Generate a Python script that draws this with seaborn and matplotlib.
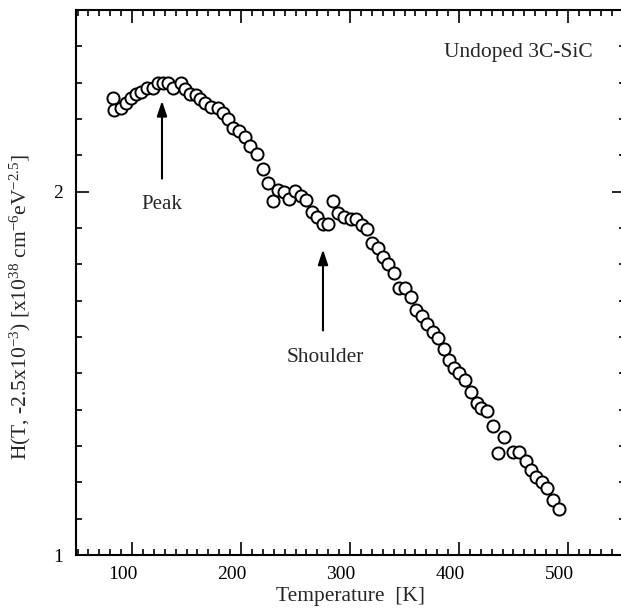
import matplotlib
matplotlib.use("Agg")
import matplotlib.pyplot as plt
from matplotlib.ticker import MultipleLocator, FixedLocator, NullFormatter
from matplotlib.transforms import ScaledTranslation
import seaborn as sns
import pandas as pd

temperature = [82.6, 83.5, 89.9, 94.5, 99.1, 103.7, 108.3, 113.8, 119.3, 123.9,
               128.4, 133.0, 137.6, 145.0, 148.6, 153.2, 158.7, 162.4, 167.0, 172.5,
               178.9, 183.5, 188.1, 192.7, 198.2, 203.7, 208.3, 214.7, 220.2, 224.8,
               229.4, 233.9, 239.4, 244.0, 249.5, 255.0, 259.6, 265.1, 269.7, 275.2,
               279.8, 284.4, 289.0, 294.5, 300.9, 305.5, 311.0, 315.6, 320.2, 325.7,
               330.3, 334.9, 340.4, 345.0, 350.5, 356.0, 360.6, 366.1, 370.6, 376.1,
               380.7, 386.2, 390.8, 395.4, 400.0, 405.5, 411.0, 416.5, 420.2, 425.7,
               431.2, 435.8, 441.3, 449.5, 455.0, 461.5, 466.1, 470.6, 476.1, 480.7,
               486.2, 491.7]
h_value = [2.258, 2.225, 2.231, 2.245, 2.258, 2.269, 2.275, 2.286, 2.286, 2.299,
           2.299, 2.299, 2.286, 2.299, 2.283, 2.269, 2.266, 2.255, 2.245, 2.234,
           2.231, 2.217, 2.201, 2.176, 2.168, 2.151, 2.126, 2.104, 2.063, 2.025,
           1.975, 2.005, 2.000, 1.981, 2.003, 1.989, 1.978, 1.945, 1.929, 1.912,
           1.912, 1.973, 1.942, 1.931, 1.926, 1.926, 1.907, 1.896, 1.860, 1.846,
           1.819, 1.802, 1.777, 1.736, 1.736, 1.709, 1.673, 1.659, 1.635, 1.613,
           1.596, 1.566, 1.536, 1.516, 1.500, 1.481, 1.448, 1.418, 1.404, 1.396,
           1.354, 1.280, 1.324, 1.283, 1.283, 1.258, 1.234, 1.214, 1.201, 1.184,
           1.151, 1.126]

x_major_ticks = [100, 200, 300, 400, 500]
y_major_ticks = [1, 2]
sample_label = "Undoped 3C-SiC"
peak_label = "Peak"
shoulder_label = "Shoulder"

df = pd.DataFrame({"T": temperature, "H": h_value})

sns.set_style("white")
plt.rcParams["font.family"] = ["Liberation Serif", "DejaVu Serif"]
plt.rcParams["mathtext.fontset"] = "custom"
plt.rcParams["mathtext.rm"] = "Liberation Serif"
plt.rcParams["mathtext.it"] = "Liberation Serif:italic"

fig = plt.figure(figsize=(6.21, 6.15), dpi=100)
W, H = 621, 615
ax = fig.add_axes([76 / W, (H - 555) / H, (625 - 76) / W, (555 - 10) / H])

sns.scatterplot(data=df, x="T", y="H", ax=ax, marker="o", s=76,
                facecolor="white", edgecolor="black", linewidth=1.4, zorder=3)

ax.set_xlim(48.6, 552.3)
ax.set_ylim(1, 2.5)

ax.xaxis.set_major_locator(FixedLocator(x_major_ticks))
ax.xaxis.set_minor_locator(MultipleLocator(10))
ax.yaxis.set_major_locator(FixedLocator(y_major_ticks))
ax.yaxis.set_minor_locator(MultipleLocator(0.1))
ax.yaxis.set_minor_formatter(NullFormatter())

ax.tick_params(which="both", direction="in", top=True, right=True,
               bottom=True, left=True, colors="black", width=1.2)
ax.tick_params(which="major", length=9.5)
ax.tick_params(which="minor", length=4.5)
ax.tick_params(axis="x", which="major", labelsize=14, pad=8)
ax.tick_params(axis="y", which="major", labelsize=14, pad=9)
ax.set_yticklabels(["1", "2"])

for lab in ax.get_xticklabels():
    lab.set_transform(lab.get_transform() + ScaledTranslation(-9 / 100, 0, fig.dpi_scale_trans))

for sp in ax.spines.values():
    sp.set_linewidth(1.5)
    sp.set_color("black")

ax.set_xlabel("Temperature  [K]", fontsize=15.5, labelpad=3)
ax.set_ylabel(r"H(T, -2.5x10$^{-3}$) [x10$^{38}$ cm$^{-6}$eV$^{-2.5}$]",
              fontsize=15.5)
ax.yaxis.set_label_coords(-0.078, 0.455)

ax.text(523, 2.382, sample_label, ha="right", va="center", fontsize=15.5)

ax.annotate("", xy=(127.5, 2.25), xytext=(127.5, 2.036),
            arrowprops=dict(arrowstyle="-|>,head_length=0.9,head_width=0.3",
                            color="black", lw=1.5, shrinkA=0, shrinkB=0))
ax.text(127.5, 1.964, peak_label, ha="center", va="center", fontsize=15)

ax.annotate("", xy=(275.2, 1.841), xytext=(275.2, 1.618),
            arrowprops=dict(arrowstyle="-|>,head_length=0.9,head_width=0.3",
                            color="black", lw=1.5, shrinkA=0, shrinkB=0))
ax.text(277, 1.544, shoulder_label, ha="center", va="center", fontsize=15.4)

fig.savefig("out.png", dpi=100)
